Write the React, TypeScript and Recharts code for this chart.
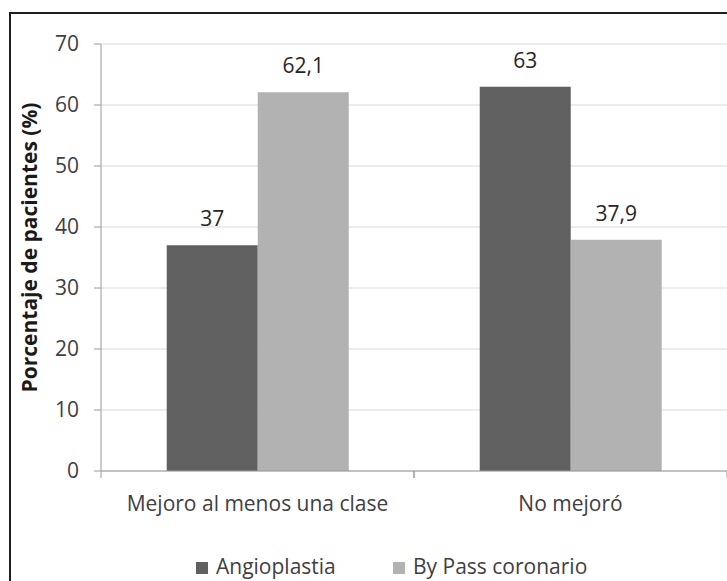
import React from 'react';
import { BarChart, Bar, XAxis, YAxis, CartesianGrid, LabelList, Legend, Label } from 'recharts';

const categories = ['Mejoro al menos una clase', 'No mejoró'];
const angioplastia = [37, 63];
const byPass = [62.1, 37.9];
const yTicks = [0, 10, 20, 30, 40, 50, 60, 70];

const seriesNames = { angio: 'Angioplastia', bypass: 'By Pass coronario' };
const colors = { angio: '#606060', bypass: '#b2b2b2' };

const FONT = '"Open Sans", "Noto Sans", sans-serif';
const TEXT = '#404040';

const data = categories.map((name, i) => ({
  name,
  angio: angioplastia[i],
  bypass: byPass[i],
}));

const toComma = (v: any) => String(v).replace('.', ',');

// category label plus the small boundary ticks between categories
const CategoryTick = (props: any) => {
  const { x, y, payload } = props;
  const half = payload && typeof payload.offset === 'number' ? payload.offset : 0;
  const axisY = y - 25;
  return (
    <g>
      {half > 0 && (
        <>
          <line x1={x - half} x2={x - half} y1={axisY} y2={axisY + 7} stroke="#9a9a9a" />
          <line x1={x + half} x2={x + half} y1={axisY} y2={axisY + 7} stroke="#9a9a9a" />
        </>
      )}
      <text x={x} y={y} dy="0.71em" textAnchor="middle" fill={TEXT} fontSize={21} fontFamily={FONT}>
        {payload.value}
      </text>
    </g>
  );
};

const AxisTitle = (props: any) => {
  const vb = props.viewBox || { y: 44, height: 427 };
  const cy = vb.y + vb.height / 2 - 10;
  return (
    <text
      x={37}
      y={cy}
      transform={`rotate(-90, 37, ${cy})`}
      textAnchor="middle"
      fill="#1a1a1a"
      fontSize={21}
      fontWeight="bold"
      fontFamily={FONT}
    >
      Porcentaje de pacientes (%)
    </text>
  );
};

const LegendBox = () => (
  <div style={{ position: 'relative', height: 28, width: 727, fontFamily: FONT, fontSize: 21, color: TEXT }}>
    <div style={{ position: 'absolute', left: 196, top: 10, width: 12, height: 12, background: colors.angio }} />
    <div style={{ position: 'absolute', left: 216, top: 0, lineHeight: '28px', whiteSpace: 'nowrap' }}>
      {seriesNames.angio}
    </div>
    <div style={{ position: 'absolute', left: 393, top: 10, width: 12, height: 12, background: colors.bypass }} />
    <div style={{ position: 'absolute', left: 413, top: 0, lineHeight: '28px', whiteSpace: 'nowrap' }}>
      {seriesNames.bypass}
    </div>
  </div>
);

export default function App() {
  return (
    <div
      style={{
        position: 'fixed',
        left: 0,
        top: 0,
        width: 727,
        height: 581,
        overflow: 'hidden',
        background: '#fff',
        fontFamily: FONT,
      }}
    >
      <div
        style={{
          position: 'absolute',
          left: 9,
          top: 12,
          width: 800,
          height: 700,
          border: '2px solid #1e1e1e',
        }}
      />
      <BarChart
        width={727}
        height={581}
        data={data}
        margin={{ top: 44, right: 0, bottom: 0, left: 0 }}
        barCategoryGap="21%"
        barGap={0}
      >
        <CartesianGrid vertical={false} stroke="#d9d9d9" />
        <XAxis
          dataKey="name"
          height={82}
          stroke="#9a9a9a"
          tickLine={false}
          tickSize={7}
          tickMargin={18}
          tick={<CategoryTick />}
          interval={0}
        />
        <YAxis
          width={101}
          domain={[0, 70]}
          ticks={yTicks}
          interval={0}
          stroke="#9a9a9a"
          tickSize={7}
          tickMargin={15}
          tick={{ fill: TEXT, fontSize: 21, fontFamily: FONT }}
        >
          <Label content={<AxisTitle />} />
        </YAxis>
        <Legend content={<LegendBox />} wrapperStyle={{ left: 0, top: 552, width: 727, height: 28 }} />
        <Bar dataKey="angio" name={seriesNames.angio} fill={colors.angio} isAnimationActive={false}>
          <LabelList
            dataKey="angio"
            position="top"
            offset={19}
            formatter={toComma}
            fill="#262626"
            fontSize={21}
            fontFamily={FONT}
          />
        </Bar>
        <Bar dataKey="bypass" name={seriesNames.bypass} fill={colors.bypass} isAnimationActive={false}>
          <LabelList
            dataKey="bypass"
            position="top"
            offset={19}
            formatter={toComma}
            fill="#262626"
            fontSize={21}
            fontFamily={FONT}
          />
        </Bar>
      </BarChart>
    </div>
  );
}
